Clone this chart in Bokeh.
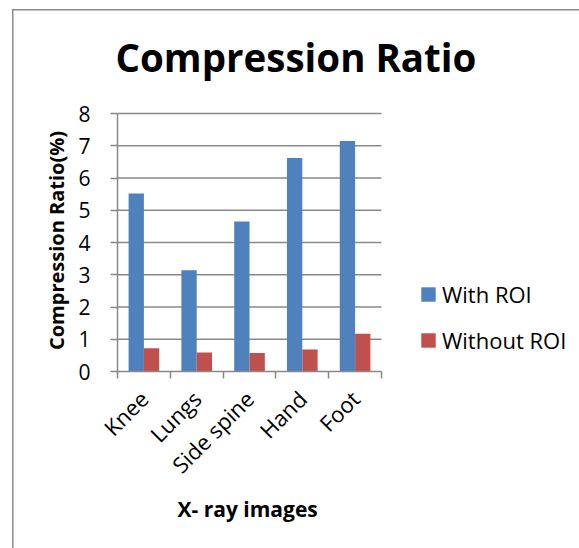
from math import pi

from bokeh.embed import file_html
from bokeh.models import (ColumnDataSource, FixedTicker, Legend, LegendItem,
                          Range1d, Title)
from bokeh.plotting import figure
from bokeh.resources import INLINE

# Data
images = ["Knee", "Lungs", "Side spine", "Hand", "Foot"]
with_roi = [5.52, 3.14, 4.65, 6.62, 7.15]
without_roi = [0.72, 0.59, 0.57, 0.68, 1.17]
y_ticks = [0, 1, 2, 3, 4, 5, 6, 7, 8]

BLUE = "#4F81BD"
RED = "#C0504D"
GRAY = "#898989"
EDGE = "#8a8a8a"
FONT = "Open Sans"

n = len(images)
centers = [i + 0.5 for i in range(n)]
bar_w = 0.29

# Plot geometry (pixels): the bar area is 264 px wide and 258 px tall for 0..8;
# the frame itself runs on to the right edge so the legend can sit inside it.
W, H = 567, 548
LEFT, TOP, BOTTOM = 105, 109, 177
BAR_AREA_W, BAR_AREA_H = 264, 258
frame_w = W - LEFT
frame_h = H - TOP - BOTTOM
x_end = n * frame_w / BAR_AREA_W
y_end = y_ticks[-1] * frame_h / BAR_AREA_H

src = ColumnDataSource(dict(
    xb=[c - bar_w / 2 for c in centers],
    xr=[c + bar_w / 2 for c in centers],
    with_roi=with_roi,
    without_roi=without_roi,
))
grid_src = ColumnDataSource(dict(y=y_ticks[1:]))

p = figure(width=W, height=H, output_backend="svg", toolbar_location=None,
           title="Compression Ratio",
           x_range=Range1d(0, x_end), y_range=Range1d(0, y_end),
           min_border_left=LEFT, min_border_right=0,
           min_border_top=TOP, min_border_bottom=BOTTOM)
p.outline_line_color = None
p.background_fill_color = "white"
p.border_fill_color = None
# chart area border: a top edge 9 px down and a left edge, running past the page
p.margin = (0, 0, 0, 12)
p.styles = {
    "background": (f"linear-gradient({EDGE}, {EDGE}) 0 9px / 100% 1.5px no-repeat, "
                   f"linear-gradient({EDGE}, {EDGE}) 0 9px / 1.5px 100% no-repeat, white"),
}

p.title.text_font = FONT
p.title.text_font_style = "bold"
p.title.text_font_size = "38.5px"
p.title.text_color = "black"
p.title.align = "left"
p.title.offset = -2
p.title.standoff = 53

# horizontal gridlines across the bar area
p.segment(x0=0, x1=n, y0="y", y1="y", source=grid_src, line_color=GRAY, line_width=1.5)

r1 = p.vbar(x="xb", top="with_roi", width=bar_w, source=src, fill_color=BLUE, line_color=None)
r2 = p.vbar(x="xr", top="without_roi", width=bar_w, source=src, fill_color=RED, line_color=None)

# x axis: labels at the category centres, ticks at the category boundaries
xax = p.xaxis[0]
xax.bounds = (0, n)
xax.ticker = FixedTicker(ticks=centers, minor_ticks=list(range(n + 1)))
xax.major_label_overrides = {c: name for c, name in zip(centers, images)}
xax.major_label_orientation = pi / 4
xax.major_tick_out = 0
xax.major_tick_in = 0
xax.minor_tick_out = 7
xax.minor_tick_in = 0
xax.minor_tick_line_color = GRAY
xax.minor_tick_line_width = 1.5
xax.axis_line_color = GRAY
xax.axis_line_width = 1.5
xax.major_label_text_font = FONT
xax.major_label_text_font_size = "22px"
xax.major_label_text_color = "black"
xax.major_label_standoff = 16

p.add_layout(Title(text="X- ray images", align="left", offset=60, standoff=1,
                   text_font=FONT, text_font_style="bold", text_font_size="21px",
                   text_color="black"),
             "below")

yax = p.yaxis[0]
yax.bounds = (0, y_ticks[-1])
yax.ticker = FixedTicker(ticks=y_ticks)
yax.major_tick_out = 7
yax.major_tick_in = 0
yax.minor_tick_out = 0
yax.minor_tick_in = 0
yax.major_tick_line_color = GRAY
yax.major_tick_line_width = 1.5
yax.axis_line_color = GRAY
yax.axis_line_width = 1.5
yax.major_label_text_font = FONT
yax.major_label_text_font_size = "21px"
yax.major_label_text_color = "black"
yax.major_label_standoff = 20
yax.axis_label = "Compression Ratio(%)"
yax.axis_label_text_font = FONT
yax.axis_label_text_font_style = "bold"
yax.axis_label_text_font_size = "20px"
yax.axis_label_text_color = "black"
yax.axis_label_standoff = 5

p.xgrid.visible = False
p.ygrid.visible = False

legend = Legend(items=[LegendItem(label="With ROI", renderers=[r1]),
                       LegendItem(label="Without ROI", renderers=[r2])],
                location=(302, 16), orientation="vertical",
                glyph_width=18, glyph_height=18, label_standoff=5,
                label_text_font=FONT, label_text_font_size="22px",
                label_text_color="black",
                label_height=20, spacing=16, padding=0, margin=0,
                border_line_color=None, background_fill_alpha=0)
p.add_layout(legend)

open("out.html", "w").write(file_html(p, INLINE))
